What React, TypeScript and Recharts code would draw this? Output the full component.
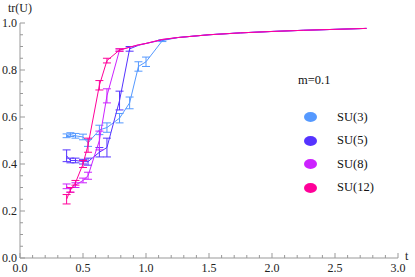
import { LineChart, Line, XAxis, YAxis, ErrorBar } from 'recharts';

const TAIL_T = [1.25, 1.5, 1.75, 2.0, 2.25, 2.5, 2.75];
const TAIL_TR = [0.938, 0.95, 0.958, 0.964, 0.969, 0.973, 0.977];
const TAIL_ERR = [0, 0, 0, 0, 0, 0, 0];

const T_GRID = [0.37, 0.4, 0.44, 0.5, 0.54, 0.63, 0.69, 0.79, 0.87, 0.94, 1.0, 1.13];

const SU3_TR = [0.52, 0.525, 0.52, 0.515, 0.49, 0.545, 0.555, 0.595, 0.66, 0.815, 0.835, 0.925];
const SU3_ERR = [0.008, 0.008, 0.01, 0.012, 0.015, 0.02, 0.02, 0.02, 0.025, 0.02, 0.02, 0.004];

const SU5_TR = [0.435, 0.415, 0.415, 0.41, 0.41, 0.45, 0.47, 0.67, 0.89, 0.905, 0.913, 0.928];
const SU5_ERR = [0.025, 0.01, 0.01, 0.01, 0.015, 0.02, 0.04, 0.04, 0.01, 0, 0, 0];

const SU8_TR = [0.305, 0.29, 0.31, 0.33, 0.35, 0.5, 0.69, 0.885, 0.897, 0.907, 0.913, 0.93];
const SU8_ERR = [0.01, 0.01, 0.01, 0.01, 0.015, 0.04, 0.03, 0.005, 0, 0, 0, 0];

const SU12_TR = [0.25, 0.29, 0.32, 0.4, 0.48, 0.735, 0.84, 0.885, 0.897, 0.907, 0.913, 0.93];
const SU12_ERR = [0.02, 0.01, 0.01, 0.015, 0.03, 0.02, 0.01, 0.005, 0, 0, 0, 0];

const X_TICKS = [0, 0.1, 0.2, 0.3, 0.4, 0.5, 0.6, 0.7, 0.8, 0.9, 1.0, 1.1, 1.2, 1.3, 1.4, 1.5, 1.6, 1.7, 1.8, 1.9, 2.0, 2.1, 2.2, 2.3, 2.4, 2.5, 2.6, 2.7, 2.8, 2.9, 3.0];
const Y_TICKS = [0, 0.05, 0.1, 0.15, 0.2, 0.25, 0.3, 0.35, 0.4, 0.45, 0.5, 0.55, 0.6, 0.65, 0.7, 0.75, 0.8, 0.85, 0.9, 0.95, 1.0];

const SERIES = [
  { name: 'SU(3)', color: '#5599ff', tr: SU3_TR, err: SU3_ERR },
  { name: 'SU(5)', color: '#5533ff', tr: SU5_TR, err: SU5_ERR },
  { name: 'SU(8)', color: '#cc22ff', tr: SU8_TR, err: SU8_ERR },
  { name: 'SU(12)', color: '#ff0099', tr: SU12_TR, err: SU12_ERR },
];

const build = (tr: number[], err: number[]) =>
  [...T_GRID, ...TAIL_T].map((t, i) => ({
    t,
    tr: i < tr.length ? tr[i] : TAIL_TR[i - tr.length],
    e: i < err.length ? err[i] : TAIL_ERR[i - err.length],
  }));

const FONT = '"Liberation Serif", "DejaVu Serif", serif';
const AXIS = '#999';

const isMult = (v: number, step: number) => Math.abs(v / step - Math.round(v / step)) < 1e-6;

const XTick = (props: any) => {
  const { x, y, payload } = props;
  const major = isMult(payload.value, 0.5);
  return (
    <g>
      <line x1={x} x2={x} y1={y} y2={y - (major ? 5 : 3)} stroke={AXIS} />
      {major && (
        <text x={x} y={y + 14} textAnchor="middle" fontFamily={FONT} fontSize={12} fill="#222">
          {payload.value.toFixed(1)}
        </text>
      )}
    </g>
  );
};

const YTick = (props: any) => {
  const { x, y, payload } = props;
  const major = isMult(payload.value, 0.2);
  return (
    <g>
      <line x1={x} x2={x + (major ? 5 : 3)} y1={y} y2={y} stroke={AXIS} />
      {major && (
        <text x={x - 3} y={y + 4} textAnchor="end" fontFamily={FONT} fontSize={12} fill="#222">
          {payload.value.toFixed(1)}
        </text>
      )}
    </g>
  );
};

// axis titles sit at the ends of the axes, like the original
const XTitle = (props: any) => {
  const { viewBox } = props;
  return (
    <text x={viewBox.x + viewBox.width + 7} y={viewBox.y + 2} fontFamily={FONT} fontSize={12} fill="#222">
      t
    </text>
  );
};

const YTitle = (props: any) => {
  const { viewBox } = props;
  return (
    <text x={viewBox.x + viewBox.width} y={viewBox.y - 11} textAnchor="middle" fontFamily={FONT} fontSize={12} fill="#222">
      tr(U)
    </text>
  );
};

export default function App() {
  return (
    <div style={{ position: 'absolute', left: 0, top: 0, width: 415, height: 277, background: '#fff' }}>
      <LineChart width={415} height={277} margin={{ top: 23, right: 17, bottom: 0, left: 0 }}>
        <XAxis
          dataKey="t"
          type="number"
          domain={[0, 3]}
          ticks={X_TICKS}
          interval={0}
          height={19}
          tickSize={0}
          tickMargin={0}
          tickLine={false}
          tick={<XTick />}
          stroke={AXIS}
          label={<XTitle />}
        />
        <YAxis
          type="number"
          domain={[0, 1]}
          ticks={Y_TICKS}
          interval={0}
          width={20}
          tickSize={0}
          tickMargin={0}
          tickLine={false}
          tick={<YTick />}
          stroke={AXIS}
          label={<YTitle />}
        />
        {SERIES.map((s) => (
          <Line
            key={s.name}
            data={build(s.tr, s.err)}
            dataKey="tr"
            name={s.name}
            stroke={s.color}
            strokeWidth={1}
            dot={false}
            isAnimationActive={false}
          >
            <ErrorBar dataKey="e" width={4} stroke={s.color} strokeWidth={1} direction="y" />
          </Line>
        ))}
      </LineChart>
      <div style={{ position: 'absolute', left: 298, top: 73, fontFamily: FONT, fontSize: 12.5, color: '#111' }}>
        m=0.1
      </div>
      {SERIES.map((s, i) => (
        <div
          key={s.name}
          style={{
            position: 'absolute',
            left: 304,
            top: 109 + i * 23.5,
            height: 16,
            display: 'flex',
            alignItems: 'center',
            fontFamily: FONT,
            fontSize: 12.5,
            color: '#111',
          }}
        >
          <span style={{ width: 13, height: 10, borderRadius: '50%', background: s.color, display: 'inline-block' }} />
          <span style={{ marginLeft: 20 }}>{s.name}</span>
        </div>
      ))}
    </div>
  );
}
